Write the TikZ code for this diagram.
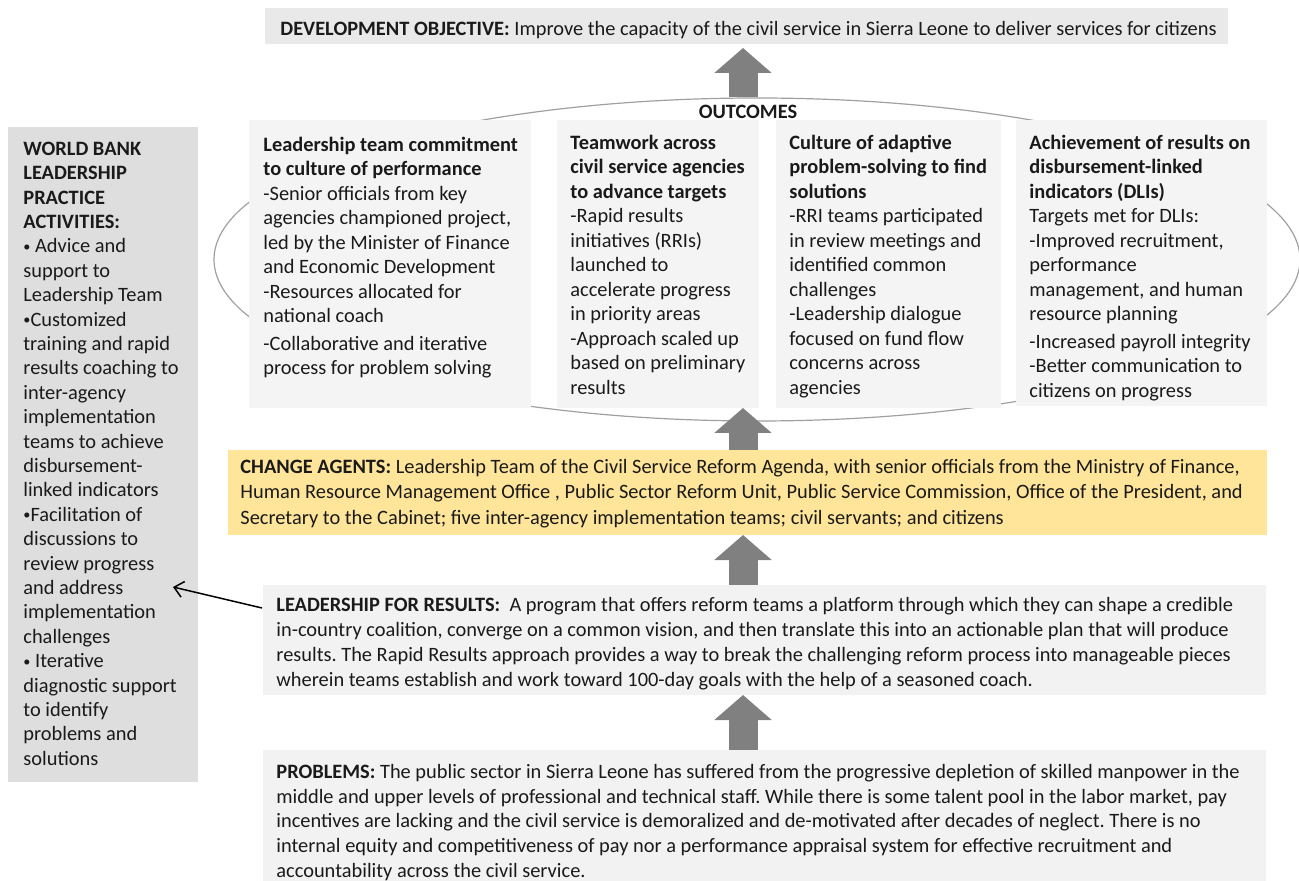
\documentclass[tikz,border=0pt]{standalone}
\usepackage{fontspec}
\setmainfont{Carlito}
\frenchspacing
\usetikzlibrary{arrows.meta,calc,shapes.geometric}
\definecolor{objgray}{HTML}{E9E9E9}
\definecolor{outgray}{HTML}{F4F4F4}
\definecolor{wbgray}{HTML}{DEDEDE}
\definecolor{agentyellow}{HTML}{FFE599}
\definecolor{lfrgray}{HTML}{F2F2F2}
\definecolor{arrowgray}{HTML}{808080}
\definecolor{ovalgray}{HTML}{A0A0A0}
\definecolor{textblack}{HTML}{1A1A1A}
\newcommand{\wbdot}{\raisebox{0.15ex}{\scalebox{0.7}{•}}}
\begin{document}
\begin{tikzpicture}[x=0.5pt,y=-0.5pt,
  panel/.style={anchor=north west,inner sep=0,outer sep=0},
  txt/.style={anchor=north west,inner sep=0,align=left,text=textblack,font=\fontsize{10.2}{12.25}\selectfont},
  uparrow/.style={draw=arrowgray,line width=14.5pt,-{Triangle[length=12.5pt,width=28pt]}},
  pointer/.style={draw=black,line width=0.75pt,-{Straight Barb[length=4.5pt,width=8pt]}}]
\useasboundingbox (0,0) rectangle (1299,881);

% outcomes oval, behind the boxes
\node[draw=ovalgray,line width=0.6pt,ellipse,inner sep=0,minimum width=543pt,minimum height=161.5pt] (oval) at (757,259.5) {};

% boxes
\node[panel,fill=objgray,minimum width=481.5pt,minimum height=18pt] (obj) at (265,8) {};
\node[panel,fill=wbgray,minimum width=95pt,minimum height=327.5pt] (wb) at (8,127) {};
\node[panel,fill=outgray,minimum width=141pt,minimum height=144pt] (o1) at (249,120) {};
\node[panel,fill=outgray,minimum width=101pt,minimum height=144pt] (o2) at (557,120) {};
\node[panel,fill=outgray,minimum width=112.5pt,minimum height=144pt] (o3) at (776,120) {};
\node[panel,fill=outgray,minimum width=125.5pt,minimum height=143pt] (o4) at (1016,120) {};
\node[panel,fill=agentyellow,minimum width=519.5pt,minimum height=42.5pt] (ca) at (228,450) {};
\node[panel,fill=lfrgray,minimum width=501.5pt,minimum height=55pt] (lfr) at (263,585) {};
\node[panel,fill=lfrgray,minimum width=501.5pt,minimum height=70pt] (prob) at (263,750) {};

% arrows
\coordinate (axis) at (743,0);
\draw[uparrow] (oval.north -| axis) -- ($(obj.south -| axis)+(0,4)$);
\draw[uparrow] (ca.north -| axis) -- (o2.south -| axis);
\draw[uparrow] (lfr.north -| axis) -- (ca.south -| axis);
\draw[uparrow] (prob.north -| axis) -- (lfr.south -| axis);
\coordinate (lfrtail) at ($(lfr.north west)+(-1,23)$);
\coordinate (wbhead) at ($(wb.north east)+(-25,460)$);
\draw[pointer] (lfrtail) -- (wbhead);

% texts
\node[txt,anchor=base west] (objtxt) at ($(obj.north west)+(15,28)$) {\textbf{DEVELOPMENT OBJECTIVE:} Improve the capacity of the civil service in Sierra Leone to deliver services for citizens};
\node[txt,anchor=base] (outtxt) at (748,119) {\textbf{OUTCOMES}};
\node[txt,font=\fontsize{10.2}{12.2}\selectfont] (wbtxt) at ($(wb.north west)+(15,10.9)$) {\strut\textbf{WORLD BANK}\\\textbf{LEADERSHIP}\\\textbf{PRACTICE}\\\textbf{ACTIVITIES:}\\
  \wbdot{} Advice and\\support to\\Leadership Team\\\wbdot Customized\\training and rapid\\results coaching to\\inter-agency\\implementation\\teams to achieve\\disbursement-\\linked indicators\\
  \wbdot Facilitation of\\discussions to\\review progress\\and address\\implementation\\challenges\\\wbdot{} Iterative\\diagnostic support\\to identify\\problems and\\solutions};
\node[txt] (o1txt) at ($(o1.north west)+(14,13.9)$) {\strut\textbf{Leadership team commitment}\\\textbf{to culture of performance}\\-Senior officials from key\\agencies championed project,\\led by the Minister of Finance\\and Economic Development\\-Resources allocated for\\national coach\\[1.5pt]-Collaborative and iterative\\process for problem solving};
\node[txt] (o2txt) at ($(o2.north west)+(13,11.9)$) {\strut\textbf{Teamwork across}\\\textbf{civil service agencies}\\\textbf{to advance targets}\\-Rapid results\\initiatives (RRIs)\\launched to\\accelerate progress\\in priority areas\\-Approach scaled up\\based on preliminary\\results};
\node[txt] (o3txt) at ($(o3.north west)+(13,11.9)$) {\strut\textbf{Culture of adaptive}\\\textbf{problem-solving to find}\\\textbf{solutions}\\-RRI teams participated\\in review meetings and\\identified common\\challenges\\-Leadership dialogue\\focused on fund flow\\concerns across\\agencies};
\node[txt] (o4txt) at ($(o4.north west)+(13,11.9)$) {\strut\textbf{Achievement of results on}\\\textbf{disbursement-linked}\\\textbf{indicators (DLIs)}\\Targets met for DLIs:\\-Improved recruitment,\\performance\\management, and human\\resource planning\\[1.5pt]-Increased payroll integrity\\-Better communication to\\citizens on progress};
\node[txt,font=\fontsize{10.2}{12.7}\selectfont] (catxt) at ($(ca.north west)+(12,5.2)$) {\strut\textbf{CHANGE AGENTS:} Leadership Team of the Civil Service Reform Agenda, with senior officials from the Ministry of Finance,\\Human Resource Management Office , Public Sector Reform Unit, Public Service Commission, Office of the President, and\\Secretary to the Cabinet; five inter-agency implementation teams; civil servants; and citizens};
\node[txt,font=\fontsize{10.2}{12.5}\selectfont] (lfrtxt) at ($(lfr.north west)+(13,8.5)$) {\strut\textbf{LEADERSHIP FOR RESULTS:}\ \ A program that offers reform teams a platform through which they can shape a credible\\in-country coalition, converge on a common vision, and then translate this into an actionable plan that will produce\\results. The Rapid Results approach provides a way to break the challenging reform process into manageable pieces\\wherein teams establish and work toward 100-day goals with the help of a seasoned coach.};
\node[txt,font=\fontsize{10.2}{12.4}\selectfont] (probtxt) at ($(prob.north west)+(13,10.6)$) {\strut\textbf{PROBLEMS:} The public sector in Sierra Leone has suffered from the progressive depletion of skilled manpower in the\\middle and upper levels of professional and technical staff. While there is some talent pool in the labor market, pay\\incentives are lacking and the civil service is demoralized and de-motivated after decades of neglect. There is no\\internal equity and competitiveness of pay nor a performance appraisal system for effective recruitment and\\accountability across the civil service.};
\end{tikzpicture}
\end{document}
